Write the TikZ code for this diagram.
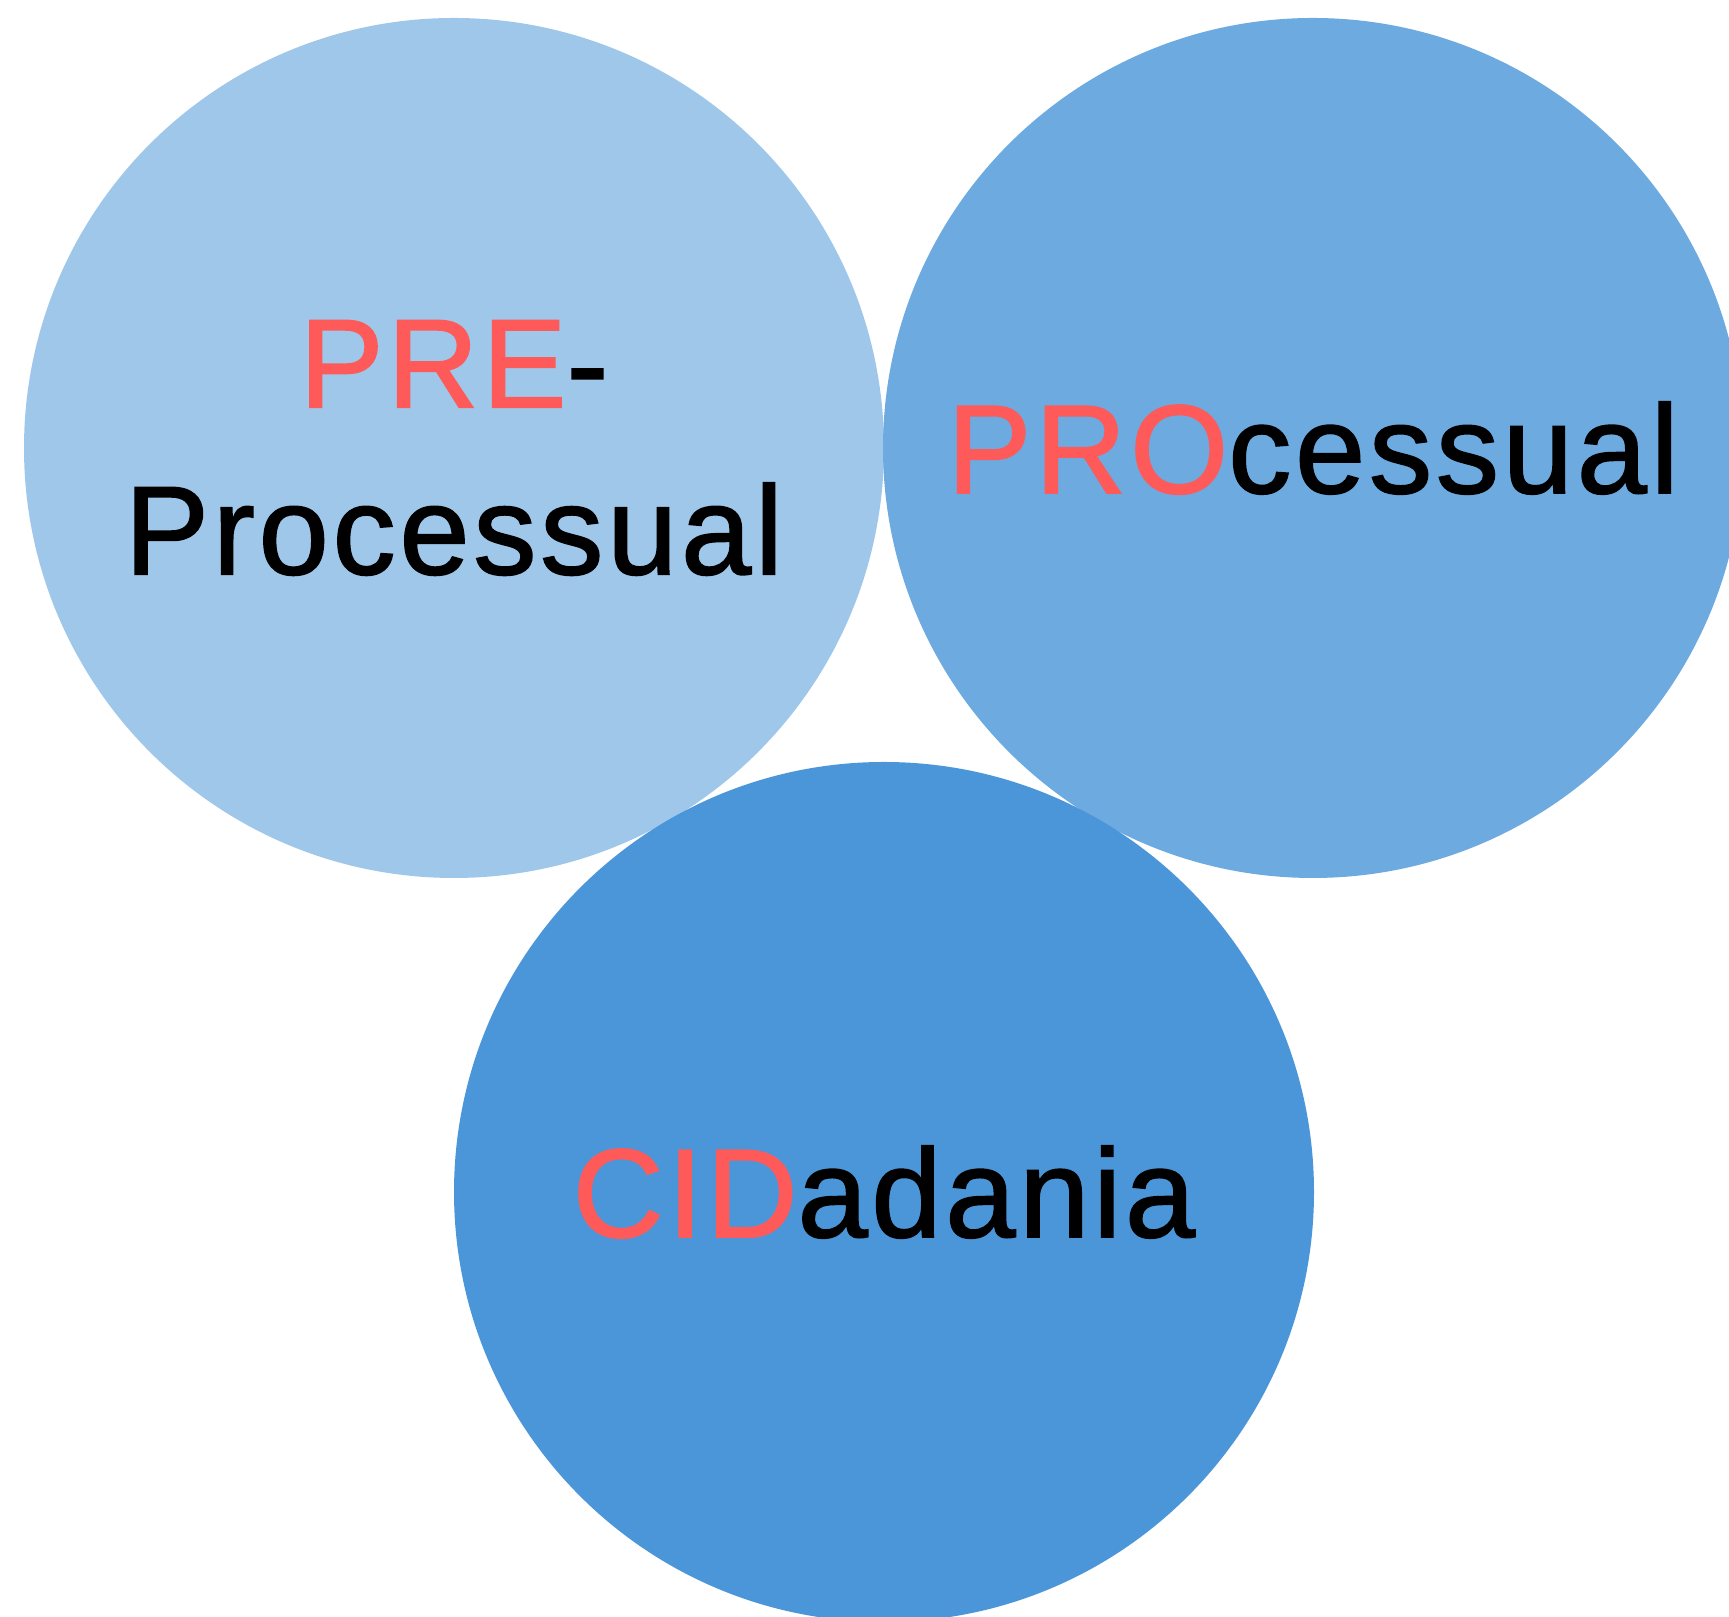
\documentclass[tikz,border=0pt]{standalone}
\usepackage{fontspec}
\setmainfont{Liberation Sans}
\newfontfamily\bubblefont{Liberation Sans}[FakeBold=1.3, LetterSpace=3]
\usepackage{xcolor}
\usepackage{tikz}
\usetikzlibrary{shapes.geometric}

\definecolor{preblue}{RGB}{159,199,234}
\definecolor{problue}{RGB}{108,170,224}
\definecolor{cidblue}{RGB}{74,150,217}
\definecolor{keyred}{RGB}{255,90,90}

\tikzset{
	bubble/.style={circle, draw=none, inner sep=0pt, minimum size=8.6cm,
		align=center, text=black, font=\bubblefont\fontsize{35.9}{47.5}\selectfont}
}

\begin{document}
\begin{tikzpicture}
		% Frame:
		\useasboundingbox (0, 0) rectangle (17.29, 16.17);
		\clip (0, 0) rectangle (17.29, 16.17);
		% Circles and labels:
		\node[bubble, fill=preblue](Pre) at (4.54, 11.69){\textcolor{keyred}{PRE}-\\Processual};
		\node[bubble, fill=problue](Pro) at (13.13, 11.69){\textcolor{keyred}{PRO}cessual};
		\node[bubble, fill=cidblue](Cid) at (8.84, 4.25){\textcolor{keyred}{CID}adania};
	\end{tikzpicture}
\end{document}
